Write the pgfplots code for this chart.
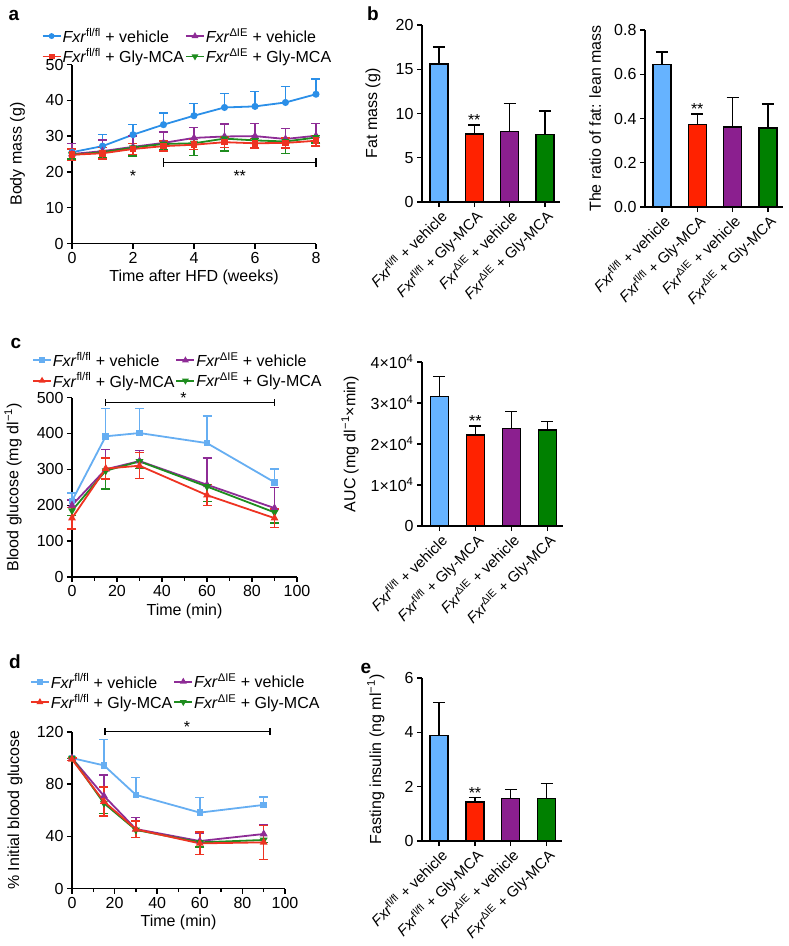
\documentclass[border=0pt]{standalone}
\usepackage{pgfplots}
\pgfplotsset{compat=1.18}
\usepackage{fontspec}
\setmainfont{Liberation Sans}

\definecolor{cblue}{HTML}{2B8FE8}
\definecolor{lblue}{HTML}{66AEF2}
\definecolor{bblue}{HTML}{66B3FF}
\definecolor{cred}{HTML}{EE3322}
\definecolor{bred}{HTML}{FF2200}
\definecolor{cpur}{HTML}{8E2C96}
\definecolor{bpur}{HTML}{8B1F8F}
\definecolor{cgrn}{HTML}{1E8C1E}
\definecolor{bgrn}{HTML}{008000}

\newcommand{\fl}{\textit{Fxr}\textsuperscript{fl/fl}}
\newcommand{\ie}{\textit{Fxr}\textsuperscript{ΔIE}}
\newcommand{\figfont}{\fontsize{16}{18}\selectfont}

\pgfplotsset{
  fig/.style={
    scale only axis, anchor=south west, clip=false,
    axis lines=left, axis line style={-, line width=1.4pt},
    tick align=outside, major tick length=5pt, minor tick length=3.5pt,
    every tick/.style={black, line width=1.4pt},
    tick label style={font=\figfont}, label style={font=\figfont},
    /pgf/number format/assume math mode=true,
  },
  barfig/.style={
    fig, xmin=-0.48, xmax=3.43, ymin=0, xtick={0,1,2,3},
    xticklabels={\fl{} + vehicle, \fl{} + Gly-MCA, \ie{} + vehicle, \ie{} + Gly-MCA},
    xticklabel style={rotate=45, anchor=north east, inner sep=1pt, font=\fontsize{15}{17}\selectfont},
  },
  lgd/.style={
    legend columns=2,
    legend style={draw=none, fill=none, inner sep=0pt, font=\figfont,
      nodes={inner sep=1pt}, anchor=north west, row sep=2.5pt,
      /tikz/every even column/.append style={column sep=0pt}},
    legend cell align=left,
    legend image code/.code={\draw[mark repeat=2,mark phase=2,##1] plot coordinates {(0pt,0pt) (9pt,0pt) (18pt,0pt)};},
  },
  bar/.style={ybar, bar width=18pt, bar shift=0pt, fill=#1, draw=black, line width=1.4pt,
    error bars/y dir=plus, error bars/y explicit,
    error bars/error bar style={black, line width=1.4pt},
    error bars/error mark options={rotate=90, black, line width=1.4pt, mark size=6pt}},
  eb/.style 2 args={line width=1.8pt, #1,
    error bars/y dir=#2, error bars/y explicit,
    error bars/error bar style={#1, line width=1.4pt},
    error bars/error mark options={rotate=90, #1, line width=1.4pt, mark size=4.5pt}},
}

\begin{document}
\begin{tikzpicture}
\useasboundingbox (0pt,0pt) rectangle (788pt,-946pt);

% panel letters
\node[font=\bfseries\fontsize{19}{20}\selectfont] at (14pt,-15pt) {a};
\node[font=\bfseries\fontsize{19}{20}\selectfont] at (373pt,-14pt) {b};
\node[font=\bfseries\fontsize{19}{20}\selectfont] at (16pt,-343pt) {c};
\node[font=\bfseries\fontsize{19}{20}\selectfont] at (15pt,-662pt) {d};
\node[font=\bfseries\fontsize{19}{20}\selectfont] at (366pt,-668pt) {e};

% ---------- a: body mass ----------
\begin{axis}[fig, lgd, at={(72pt,-243.5pt)}, width=244pt, height=179pt,
  xmin=0, xmax=8, ymin=0, ymax=50, xtick={0,2,4,6,8}, ytick={0,10,20,30,40,50},
  xlabel={Time after HFD (weeks)}, ylabel={Body mass (g)},
  ylabel style={at={(axis description cs:-0.223,0.5)}, anchor=center},
  legend style={at={(axis description cs:-0.125,1.21)}}]
\addplot[forget plot, eb={cblue}{plus}, mark=*, mark size=2.6pt] coordinates {
  (0,25.5) +- (0,2.5) (1,27.2) +- (0,3.2) (2,30.4) +- (0,2.8) (3,33.2) +- (0,3.2)
  (4,35.7) +- (0,3.4) (5,38.0) +- (0,3.9) (6,38.3) +- (0,4.1) (7,39.4) +- (0,4.4) (8,41.7) +- (0,4.3)};
\addplot[forget plot, eb={cpur}{plus}, mark=triangle*, mark size=2.8pt] coordinates {
  (0,25.0) +- (0,3.0) (1,25.8) +- (0,3.1) (2,27.0) +- (0,3.0) (3,28.1) +- (0,3.1)
  (4,29.5) +- (0,2.9) (5,29.9) +- (0,3.5) (6,30.0) +- (0,3.6) (7,29.2) +- (0,3.0) (8,30.1) +- (0,3.5)};
\addplot[forget plot, eb={cgrn}{minus}, mark=triangle*, mark size=2.8pt, mark options={rotate=180}] coordinates {
  (0,24.8) +- (0,1.2) (1,25.5) +- (0,1.4) (2,26.8) +- (0,2.4) (3,27.8) +- (0,1.5)
  (4,28.0) +- (0,3.4) (5,29.3) +- (0,3.5) (6,28.8) +- (0,2.1) (7,28.5) +- (0,3.3) (8,29.6) +- (0,1.5)};
\addplot[forget plot, eb={cred}{both}, mark=square*, mark size=2.4pt] coordinates {
  (0,24.8) +- (0,1.6) (1,25.2) +- (0,1.6) (2,26.4) +- (0,1.5) (3,27.2) +- (0,1.4)
  (4,27.6) +- (0,1.4) (5,28.3) +- (0,1.4) (6,28.0) +- (0,1.3) (7,28.1) +- (0,1.4) (8,28.7) +- (0,1.5)};
\addlegendimage{cblue, line width=1.8pt, mark=*, mark size=2pt}
\addlegendentry{\fl{} + vehicle}
\addlegendimage{cpur, line width=1.8pt, mark=triangle*, mark size=2.2pt}
\addlegendentry{\ie{} + vehicle}
\addlegendimage{cred, line width=1.8pt, mark=square*, mark size=2pt}
\addlegendentry{\fl{} + Gly-MCA}
\addlegendimage{cgrn, line width=1.8pt, mark=triangle*, mark size=2.2pt, mark options={rotate=180}}
\addlegendentry{\ie{} + Gly-MCA}
\draw[line width=1.4pt] (axis cs:3,22.7) -- (axis cs:8,22.7);
\draw[line width=1.4pt] (axis cs:3,21.5) -- (axis cs:3,23.9);
\draw[line width=1.4pt] (axis cs:8,21.5) -- (axis cs:8,23.9);
\node[anchor=base, inner sep=0pt, font=\figfont] at (axis cs:2,17.4) {*};
\node[anchor=base, inner sep=0pt, font=\figfont] at (axis cs:5.5,17.2) {**};
\end{axis}

% ---------- b: fat mass ----------
\begin{axis}[barfig, at={(422pt,-202pt)}, width=138pt, height=177pt,
  ymax=20, ytick={0,5,10,15,20}, ylabel={Fat mass (g)},
  ylabel style={at={(axis description cs:-0.355,0.5)}, anchor=center}]
\addplot[bar=bblue] coordinates {(0,15.6) +- (0,1.9)};
\addplot[bar=bred] coordinates {(1,7.7) +- (0,1.0)};
\addplot[bar=bpur] coordinates {(2,8.0) +- (0,3.1)};
\addplot[bar=bgrn] coordinates {(3,7.6) +- (0,2.7)};
\node[anchor=base, inner sep=0pt, font=\figfont] at (axis cs:1,8.6) {**};
\end{axis}

% ---------- b: ratio ----------
\begin{axis}[barfig, at={(645pt,-207pt)}, width=138pt, height=177pt,
  ymax=0.8, ytick={0,0.2,0.4,0.6,0.8},
  yticklabel style={/pgf/number format/.cd, fixed, fixed zerofill, precision=1},
  ylabel={The ratio of fat: lean mass},
  ylabel style={at={(axis description cs:-0.362,0.5)}, anchor=center}]
\addplot[bar=bblue] coordinates {(0,0.643) +- (0,0.058)};
\addplot[bar=bred] coordinates {(1,0.373) +- (0,0.048)};
\addplot[bar=bpur] coordinates {(2,0.362) +- (0,0.132)};
\addplot[bar=bgrn] coordinates {(3,0.358) +- (0,0.108)};
\node[anchor=base, inner sep=0pt, font=\figfont] at (axis cs:1,0.42) {**};
\end{axis}

% ---------- c: GTT ----------
\begin{axis}[fig, lgd, at={(72pt,-577pt)}, width=225pt, height=179.5pt,
  xmin=0, xmax=100, ymin=0, ymax=500, xtick={0,20,40,60,80,100}, minor x tick num=1,
  ytick={0,100,200,300,400,500},
  xlabel={Time (min)}, ylabel={Blood glucose (mg dl\textsuperscript{−1})},
  ylabel style={at={(axis description cs:-0.262,0.5)}, anchor=center},
  legend style={at={(axis description cs:-0.178,1.258)}}]
\addplot[forget plot, eb={lblue}{plus}, mark=square*, mark size=2.4pt] coordinates {
  (0,212) +- (0,22) (15,392) +- (0,77) (30,401) +- (0,68) (60,373) +- (0,76) (90,264) +- (0,37)};
\addplot[forget plot, eb={cpur}{plus}, mark=triangle*, mark size=2.8pt] coordinates {
  (0,200) +- (0,15) (15,300) +- (0,55) (30,323) +- (0,29) (60,257) +- (0,75) (90,192) +- (0,57)};
\addplot[forget plot, eb={cgrn}{minus}, mark=triangle*, mark size=2.8pt, mark options={rotate=180}] coordinates {
  (0,185) +- (0,13) (15,296) +- (0,51) (30,322) +- (0,20) (60,252) +- (0,41) (90,180) +- (0,30)};
\addplot[forget plot, eb={cred}{both}, mark=triangle*, mark size=2.8pt] coordinates {
  (0,164) +- (0,30) (15,302) +- (0,29) (30,310) +- (0,36) (60,228) +- (0,29) (90,164) +- (0,26)};
\addlegendimage{lblue, line width=1.8pt, mark=square*, mark size=2pt}
\addlegendentry{\fl{} + vehicle}
\addlegendimage{cpur, line width=1.8pt, mark=triangle*, mark size=2.2pt}
\addlegendentry{\ie{} + vehicle}
\addlegendimage{cred, line width=1.8pt, mark=triangle*, mark size=2.2pt}
\addlegendentry{\fl{} + Gly-MCA}
\addlegendimage{cgrn, line width=1.8pt, mark=triangle*, mark size=2.2pt, mark options={rotate=180}}
\addlegendentry{\ie{} + Gly-MCA}
\draw[line width=1.2pt] (axis cs:15,486) -- (axis cs:90,486);
\draw[line width=1.2pt] (axis cs:15,477) -- (axis cs:15,495);
\draw[line width=1.2pt] (axis cs:90,477) -- (axis cs:90,495);
\node[anchor=base, inner sep=0pt, font=\figfont] at (axis cs:49.5,484) {*};
\end{axis}

% ---------- c: AUC ----------
\begin{axis}[barfig, at={(422pt,-526pt)}, width=141pt, height=164pt,
  ymax=40000, ytick={0,10000,20000,30000,40000}, scaled y ticks=false,
  yticklabels={0, 1×10\textsuperscript{4}, 2×10\textsuperscript{4}, 3×10\textsuperscript{4}, 4×10\textsuperscript{4}},
  ylabel={AUC (mg dl\textsuperscript{−1}×min)},
  ylabel style={at={(axis description cs:-0.51,0.5)}, anchor=center}]
\addplot[bar=bblue] coordinates {(0,31600) +- (0,4900)};
\addplot[bar=bred] coordinates {(1,22200) +- (0,2200)};
\addplot[bar=bpur] coordinates {(2,23800) +- (0,4100)};
\addplot[bar=bgrn] coordinates {(3,23400) +- (0,2100)};
\node[anchor=base, inner sep=0pt, font=\figfont] at (axis cs:1,24200) {**};
\end{axis}

% ---------- d: ITT ----------
\begin{axis}[fig, lgd, at={(72pt,-888.5pt)}, width=213pt, height=156.5pt,
  xmin=0, xmax=100, ymin=0, ymax=120, xtick={0,20,40,60,80,100}, minor x tick num=1,
  ytick={0,40,80,120},
  xlabel={Time (min)}, ylabel={\% Initial blood glucose},
  ylabel style={at={(axis description cs:-0.268,0.5)}, anchor=center},
  legend style={at={(axis description cs:-0.198,1.38)}}]
\addplot[forget plot, eb={lblue}{plus}, mark=square*, mark size=2.4pt] coordinates {
  (0,100) +- (0,0) (15,94.4) +- (0,20) (30,71.8) +- (0,13.3) (60,58.2) +- (0,11.8) (90,64.1) +- (0,6.2)};
\addplot[forget plot, eb={cpur}{plus}, mark=triangle*, mark size=2.8pt] coordinates {
  (0,100) +- (0,0) (15,71) +- (0,16) (30,45.6) +- (0,9) (60,36.4) +- (0,6) (90,41.8) +- (0,7.4)};
\addplot[forget plot, eb={cgrn}{minus}, mark=triangle*, mark size=2.8pt, mark options={rotate=180}] coordinates {
  (0,100) +- (0,0.5) (15,65.4) +- (0,8) (30,44.9) +- (0,6) (60,35.4) +- (0,3.5) (90,37.2) +- (0,2)};
\addplot[forget plot, eb={cred}{both}, mark=triangle*, mark size=2.8pt] coordinates {
  (0,99) +- (0,1) (15,66.7) +- (0,11) (30,45.4) +- (0,6.5) (60,34.6) +- (0,8.7) (90,35.4) +- (0,13)};
\addlegendimage{lblue, line width=1.8pt, mark=square*, mark size=2pt}
\addlegendentry{\fl{} + vehicle}
\addlegendimage{cpur, line width=1.8pt, mark=triangle*, mark size=2.2pt}
\addlegendentry{\ie{} + vehicle}
\addlegendimage{cred, line width=1.8pt, mark=triangle*, mark size=2.2pt}
\addlegendentry{\fl{} + Gly-MCA}
\addlegendimage{cgrn, line width=1.8pt, mark=triangle*, mark size=2.2pt, mark options={rotate=180}}
\addlegendentry{\ie{} + Gly-MCA}
\draw[line width=1.2pt] (axis cs:15.5,120.5) -- (axis cs:93,120.5);
\draw[line width=1.2pt] (axis cs:15.5,118) -- (axis cs:15.5,123);
\draw[line width=1.2pt] (axis cs:93,118) -- (axis cs:93,123);
\node[anchor=base, inner sep=0pt, font=\figfont] at (axis cs:54,119.5) {*};
\end{axis}

% ---------- e: insulin ----------
\begin{axis}[barfig, at={(422pt,-841pt)}, width=140pt, height=163pt,
  ymax=6, ytick={0,2,4,6}, ylabel={Fasting insulin (ng ml\textsuperscript{−1})},
  ylabel style={at={(axis description cs:-0.33,0.5)}, anchor=center}]
\addplot[bar=bblue] coordinates {(0,3.89) +- (0,1.2)};
\addplot[bar=bred] coordinates {(1,1.44) +- (0,0.17)};
\addplot[bar=bpur] coordinates {(2,1.56) +- (0,0.33)};
\addplot[bar=bgrn] coordinates {(3,1.56) +- (0,0.55)};
\node[anchor=base, inner sep=0pt, font=\figfont] at (axis cs:1,1.58) {**};
\end{axis}
\end{tikzpicture}
\end{document}
